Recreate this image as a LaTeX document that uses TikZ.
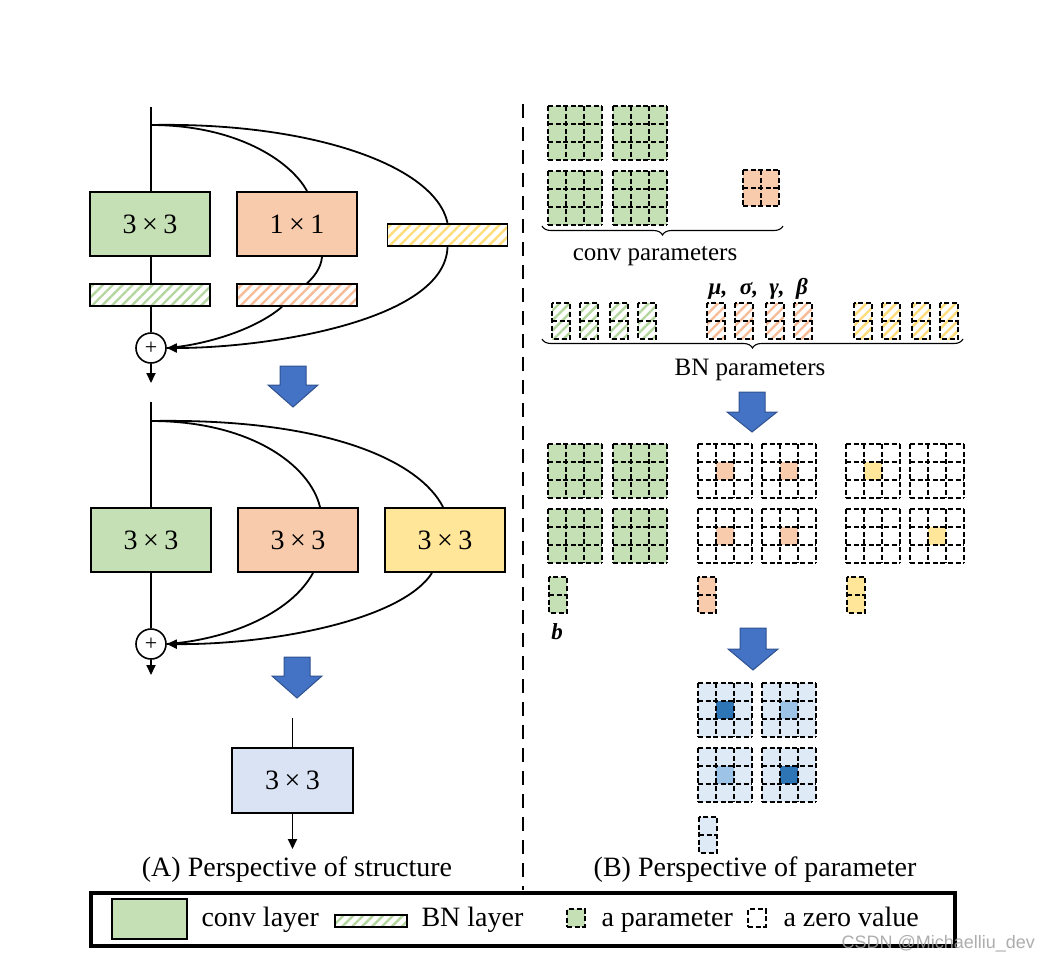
\documentclass[tikz,border=0pt]{standalone}
\usepackage{fontspec}
\setmainfont{Liberation Serif}
\newfontfamily\wmfont{Liberation Sans}
\usetikzlibrary{arrows.meta,patterns.meta,decorations.pathreplacing,calc}
\definecolor{cgreen}{HTML}{C5E0B4}
\definecolor{corange}{HTML}{F8CBAD}
\definecolor{cyellow}{HTML}{FFE699}
\definecolor{hgreen}{HTML}{B4D7A0}
\definecolor{horange}{HTML}{F6BC98}
\definecolor{hyellow}{HTML}{FFDD7A}
\definecolor{cblue}{HTML}{DAE3F3}
\definecolor{arrblue}{HTML}{4472C4}
\definecolor{arredge}{HTML}{2F528F}
\definecolor{gridblue}{HTML}{DEEBF7}
\definecolor{darkblue}{HTML}{2E75B6}
\definecolor{midblue}{HTML}{9DC3E6}
\tikzset{
  layer/.style={draw, line width=2pt, minimum width=120pt, minimum height=64pt, inner sep=0pt, font=\fontsize{28}{30}\selectfont},
  bnbar/.style={draw, line width=1.6pt, minimum width=120pt, minimum height=22pt, inner sep=0pt},
  hatch/.style={pattern={Lines[angle=45,distance=7pt,line width=2.4pt]}, pattern color=#1},
  conn/.style={line width=1.8pt},
  tipped/.style={-{Triangle[length=10pt,width=9pt]}},
  plus/.style={circle, draw, line width=1.6pt, minimum size=30pt, inner sep=0pt, font=\fontsize{22}{22}\selectfont},
  blockarrow/.style={fill=arrblue, draw=arredge, line width=1pt},
  cellline/.style={line width=1.6pt, dash pattern=on 5pt off 2.6pt},
  caption/.style={anchor=base, font=\fontsize{28}{30}\selectfont},
  paramtext/.style={font=\fontsize{25}{28}\selectfont},
  greek/.style={anchor=base, font=\fontsize{23}{26}\selectfont\bfseries\itshape},
  legtext/.style={anchor=base west, font=\fontsize{28}{30}\selectfont},
  brace/.style={line width=1.1pt, decorate, decoration={brace, mirror, amplitude=9pt}}
}
\newcommand{\pgrid}[4]{%
  \fill[#3] (#1,#2) rectangle ++(54,54);
  \fill[#4] ({#1+18},{#2+18}) rectangle ++(18,18);
  \foreach \k in {0,18,36,54}{
    \draw[cellline] ({#1+\k},#2) -- ++(0,54);
    \draw[cellline] (#1,{#2+\k}) -- ++(54,0);
  }}
\newcommand{\pbar}[3]{%
  \path[#3] (#1,#2) rectangle ++(18,36);
  \draw[cellline] (#1,#2) rectangle ++(18,36);
  \draw[cellline] (#1,{#2+18}) -- ++(18,0);}
\newcommand{\barrow}[4]{% cx, top, headstart, tip
  \filldraw[blockarrow] ({#1-13},#2) -- ({#1+13},#2) -- ({#1+13},#3) -- ({#1+25},#3)
    -- (#1,#4) -- ({#1-25},#3) -- ({#1-13},#3) -- cycle;}
\begin{document}
\begin{tikzpicture}[x=1pt,y=-1pt]
\useasboundingbox (0,0) rectangle (1060,962);
% ---------- (A) upper block ----------
\coordinate (in1) at (151,107);
\coordinate (br1) at (151,125);
\coordinate (out1) at (151,383);
\node[layer, fill=cgreen] (c1) at (150,224) {3\hspace{0.2em}×\hspace{0.2em}3};
\node[layer, fill=corange] (o1) at (297,224) {1\hspace{0.2em}×\hspace{0.2em}1};
\node[bnbar, hatch=hyellow] (bny) at (447.5,235) {};
\node[bnbar, hatch=hgreen] (bng) at (150,295) {};
\node[bnbar, hatch=horange] (bno) at (297,295) {};
\node[plus] (p1) at (151,348) {+};
\draw[conn] (in1) -- (br1) -- (br1 |- c1.north);
\draw[conn] (br1 |- c1.south) -- (br1 |- bng.north);
\draw[conn] (br1 |- bng.south) -- (p1.north);
\draw[conn, tipped] (p1.south) -- (out1);
\draw[conn] (br1) .. controls (235,125) and (290,160) .. ($(o1.north)+(10,0)$);
\draw[conn] (br1) .. controls (310,122) and (435,165) .. (bny.north);
\draw[conn] ($(o1.south)+(25,0)$) .. controls (321,268) and (314,277) .. ($(bno.north)+(10,0)$);
\draw[conn] ($(bno.south)+(-15,0)$) .. controls (255,330) and (205,345) .. (p1.east);
\draw[conn, tipped] (bny.south) .. controls (445,320) and (270,348) .. (p1.east);
\barrow{293}{366}{385}{407}
% ---------- (A) lower block ----------
\coordinate (in2) at (151,402);
\coordinate (br2) at (151,421);
\coordinate (out2) at (151,675);
\node[layer, fill=cgreen] (g2) at (151,540) {3\hspace{0.2em}×\hspace{0.2em}3};
\node[layer, fill=corange] (o2) at (298,540) {3\hspace{0.2em}×\hspace{0.2em}3};
\node[layer, fill=cyellow] (y2) at (445,540) {3\hspace{0.2em}×\hspace{0.2em}3};
\node[plus] (p2) at (151,644) {+};
\draw[conn] (in2) -- (br2) -- (g2.north);
\draw[conn] (g2.south) -- (p2.north);
\draw[conn, tipped] (p2.south) -- (out2);
\draw[conn] (br2) .. controls (250,421) and (310,465) .. ($(o2.north)+(22,0)$);
\draw[conn] (br2) .. controls (330,418) and (420,462) .. ($(y2.north)+(-2,0)$);
\draw[conn] ($(o2.south)+(15,0)$) .. controls (290,615) and (225,640) .. (p2.east);
\draw[conn, tipped] ($(y2.south)+(-13,0)$) .. controls (400,622) and (265,645) .. (p2.east);
\barrow{297}{657}{676}{698}
% ---------- (A) fused ----------
\coordinate (in3) at (292.5,718);
\coordinate (out3) at (292.5,849);
\node[layer, fill=cblue, minimum width=121pt, minimum height=65pt] (f3) at (292.5,780.5) {3\hspace{0.2em}×\hspace{0.2em}3};
\draw[conn] (in3) -- (f3.north);
\draw[conn, tipped] (f3.south) -- (out3);
\node[caption] (capA) at (297,876) {(A) Perspective of structure};
% ---------- divider ----------
\draw[line width=2.8pt, dash pattern=on 14pt off 9pt] (523,104) -- (523,890);
% ---------- (B) conv parameters ----------
\pgrid{548}{106}{cgreen}{cgreen}
\pgrid{613}{106}{cgreen}{cgreen}
\pgrid{548}{171}{cgreen}{cgreen}
\pgrid{613}{171}{cgreen}{cgreen}
\fill[corange] (743,170) rectangle ++(36,36);
\foreach \k in {0,18,36}{
  \draw[cellline] ({743+\k},170) -- ++(0,36);
  \draw[cellline] (743,{170+\k}) -- ++(36,0);
}
\coordinate (cb1) at (542,226);
\coordinate (cb2) at (783,226);
\draw[brace] (cb1) -- (cb2);
\node[paramtext] (convp) at (655,256) {conv parameters};
% ---------- BN parameters ----------
\foreach \x in {552,580,610,638}{\pbar{\x}{303}{hatch=hgreen}}
\foreach \x in {707,735,766,794}{\pbar{\x}{303}{hatch=horange}}
\foreach \x in {854,882,912,940}{\pbar{\x}{303}{hatch=hyellow}}
\node[greek] (mu) at (718,294) {μ,};
\node[greek] (sg) at (749,294) {σ,};
\node[greek] (gm) at (777,294) {γ,};
\node[greek] (bt) at (802,294) {β};
\coordinate (bb1) at (542,339);
\coordinate (bb2) at (963,339);
\draw[brace] (bb1) -- (bb2);
\node[paramtext] (bnp) at (750,370) {BN parameters};
\barrow{752}{392}{412}{432}
% ---------- converted kernels ----------
\pgrid{548}{444}{cgreen}{cgreen}
\pgrid{613}{444}{cgreen}{cgreen}
\pgrid{548}{509}{cgreen}{cgreen}
\pgrid{613}{509}{cgreen}{cgreen}
\pgrid{698}{444}{white}{corange}
\pgrid{762}{444}{white}{corange}
\pgrid{698}{509}{white}{corange}
\pgrid{762}{509}{white}{corange}
\pgrid{846}{444}{white}{cyellow}
\pgrid{910}{444}{white}{white}
\pgrid{846}{509}{white}{white}
\pgrid{910}{509}{white}{cyellow}
\pbar{549}{577}{fill=cgreen}
\pbar{698}{577}{fill=corange}
\pbar{847}{577}{fill=cyellow}
\node[anchor=base, font=\fontsize{23}{24}\selectfont\bfseries\itshape] (bl) at (557,639) {b};
\barrow{753}{628}{649}{670}
% ---------- fused kernel ----------
\pgrid{698}{683}{gridblue}{darkblue}
\pgrid{762}{683}{gridblue}{midblue}
\pgrid{698}{748}{gridblue}{midblue}
\pgrid{762}{748}{gridblue}{darkblue}
\pbar{699}{817}{fill=gridblue}
\node[caption] (capB) at (755,876) {(B) Perspective of parameter};
% ---------- legend ----------
\draw[line width=3.2pt] (91,893) rectangle (955,946);
\node[draw, line width=1.4pt, fill=cgreen, minimum width=75pt, minimum height=40pt, inner sep=0pt] (lg1) at (149.5,919) {};
\node[legtext] (lt1) at (198,926) {conv layer};
\node[draw, line width=1.4pt, hatch=hgreen, minimum width=72pt, minimum height=12pt, inner sep=0pt] (lg2) at (371,921) {};
\node[legtext] (lt2) at (418,926) {BN layer};
\node[draw, cellline, fill=cgreen, minimum size=17.5pt, inner sep=0pt] (lg3) at (576,918) {};
\node[legtext] (lt3) at (598,926) {a parameter};
\node[draw, cellline, minimum size=17.5pt, inner sep=0pt] (lg4) at (757,918) {};
\node[legtext] (lt4) at (780,926) {a zero value};
\node[anchor=base west, font=\fontsize{18}{20}\wmfont, text=gray!75, opacity=0.85] (wm) at (838,948) {CSDN @Michaelliu\_dev};
\end{tikzpicture}
\end{document}
